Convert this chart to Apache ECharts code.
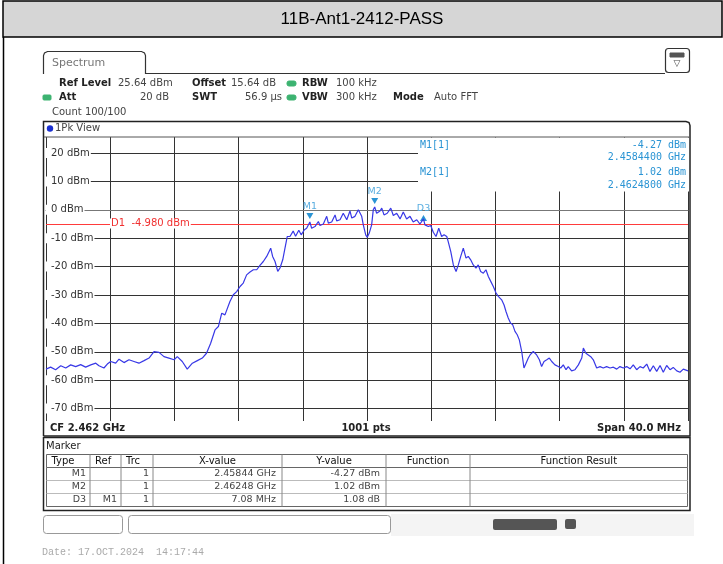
<!DOCTYPE html>
<html><head><meta charset="utf-8">
<script src="https://cdn.jsdelivr.net/npm/echarts@6/dist/echarts.min.js"></script>
<style>html,body{margin:0;padding:0;background:#fff}#c{width:723px;height:564px}</style>
</head><body><div id="c"></div>
<script>
// ---- data ----
const title = '11B-Ant1-2412-PASS';
const centerFreqGHz = 2.462;
const spanMHz = 40;
const refLevel = 25.64;
const displayRangeDb = 100;
const displayLineDbm = -4.98;
const yTickValues = [-70, -60, -50, -40, -30, -20, -10, 0, 10, 20];
// frequency offset from the centre frequency (MHz)
const freqOffsetMHz = [-20.00,-19.71,-19.40,-19.08,-18.77,-18.46,-18.15,-17.84,-17.53,-17.21,-16.90,-16.70,-16.39,-16.18,-15.97,-15.66,-15.45,-15.14,-14.83,-14.52,-14.21,-13.89,-13.58,-13.27,-12.96,-12.65,-12.34,-12.02,-11.82,-11.51,-11.20,-10.88,-10.57,-10.26,-10.00,-9.74,-9.47,-9.26,-9.05,-8.85,-8.54,-8.33,-8.12,-7.91,-7.71,-7.50,-7.29,-7.08,-6.87,-6.67,-6.46,-6.25,-6.00,-5.88,-5.73,-5.56,-5.42,-5.25,-5.11,-4.97,-4.80,-4.60,-4.45,-4.25,-4.10,-3.90,-3.76,-3.56,-3.45,-3.24,-3.03,-2.93,-2.72,-2.51,-2.41,-2.20,-1.99,-1.89,-1.68,-1.48,-1.26,-1.06,-0.95,-0.75,-0.54,-0.44,-0.33,-0.23,-0.08,0.02,0.14,0.29,0.39,0.48,0.60,0.81,0.92,1.06,1.26,1.48,1.64,1.85,2.06,2.26,2.47,2.68,2.88,3.10,3.30,3.52,3.61,3.82,3.97,4.13,4.30,4.47,4.65,4.80,4.97,5.06,5.22,5.38,5.55,5.69,5.84,6.00,6.17,6.31,6.46,6.62,6.79,6.93,7.08,7.25,7.41,7.56,7.71,7.87,8.04,8.18,8.39,8.54,8.66,8.80,8.95,9.08,9.22,9.36,9.49,9.64,9.78,9.91,10.05,10.16,10.36,10.57,10.74,10.88,11.03,11.20,11.36,11.51,11.71,11.92,12.07,12.23,12.40,12.54,12.75,12.96,13.17,13.38,13.48,13.64,13.79,13.94,14.10,14.31,14.52,14.72,14.93,15.14,15.35,15.56,15.76,15.97,16.18,16.39,16.59,16.80,17.01,17.21,17.43,17.63,17.84,18.05,18.26,18.46,18.67,18.88,19.08,19.30,19.50,19.71,20.00];
const levelDbm = [-56.1,-55.4,-56.3,-54.9,-55.7,-54.6,-55.2,-54.5,-55.4,-54.6,-54.0,-54.9,-55.7,-54.3,-53.4,-54.0,-52.6,-53.8,-52.8,-53.4,-54.0,-53.1,-52.2,-49.9,-50.2,-51.7,-52.2,-52.8,-51.7,-53.4,-56.1,-54.0,-53.1,-52.2,-50.5,-47.0,-42.3,-41.1,-36.4,-37.0,-32.3,-29.9,-28.8,-27.0,-25.8,-22.9,-21.9,-21.1,-21.1,-19.6,-18.2,-16.4,-13.5,-16.4,-18.2,-21.7,-20.5,-17.6,-13.5,-9.4,-9.4,-7.5,-9.3,-7.2,-8.8,-7.0,-6.5,-4.27,-6.5,-5.9,-4.1,-5.5,-5.0,-2.3,-4.7,-4.3,-1.8,-3.9,-3.5,-1.2,-3.5,-0.4,-2.9,-2.3,0.0,0.6,-2.3,-5.3,-8.8,-9.7,-8.2,-5.3,0.0,1.02,-1.2,-0.4,0.6,-1.8,-1.2,0.6,-2.0,-1.2,-3.2,-0.8,-3.2,-2.3,-4.3,-3.5,-5.0,-3.19,-5.3,-5.9,-5.5,-7.9,-9.4,-6.5,-9.4,-8.8,-9.4,-11.2,-14.7,-19.4,-21.7,-19.4,-16.4,-13.5,-17.0,-16.4,-17.6,-19.4,-20.5,-19.4,-21.7,-22.3,-21.1,-23.5,-25.2,-27.0,-29.3,-30.5,-31.7,-33.5,-35.8,-38.1,-39.9,-40.5,-42.8,-44.0,-45.8,-49.9,-55.7,-54.0,-52.2,-51.1,-49.9,-51.1,-52.8,-55.2,-53.4,-52.8,-52.2,-53.4,-54.6,-55.2,-55.7,-54.6,-56.3,-55.2,-56.7,-56.3,-54.6,-52.2,-48.7,-50.5,-51.1,-51.7,-52.8,-55.7,-55.2,-55.7,-55.2,-55.7,-55.4,-56.1,-55.2,-55.7,-55.2,-56.0,-54.6,-56.3,-55.2,-55.7,-54.3,-56.9,-54.9,-56.9,-54.8,-57.2,-54.8,-56.3,-55.5,-56.7,-57.2,-56.1,-56.7];
// markers
const markerNames = ['M1', 'M2', 'D3'];
const markerOffsetMHz = [-3.56, 0.48, 3.52];
const markerLevelDbm = [-4.27, 1.02, -3.19];
// marker table
const tableHeader = ['Type', 'Ref', 'Trc', 'X-value', 'Y-value', 'Function', 'Function Result'];
const tableType = ['M1', 'M2', 'D3'];
const tableRef = ['', '', 'M1'];
const tableTrc = ['1', '1', '1'];
const tableX = ['2.45844 GHz', '2.46248 GHz', '7.08 MHz'];
const tableY = ['-4.27 dBm', '1.02 dBm', '1.08 dB'];

// ---- chart ----
const chart = echarts.init(document.getElementById('c'), null, {renderer: 'canvas'});
const F = 'DejaVu Sans';
const BLUE = '#2a94d4';
function T(x, y, text, o) {
  o = o || {};
  const st = {
    text: text, fill: o.fill || '#222', align: o.align || 'left', verticalAlign: 'middle',
    font: (o.weight || 'normal') + ' ' + (o.size || 10) + 'px ' + (o.family || F)
  };
  if (o.bg) { st.backgroundColor = o.bg; st.padding = o.pad || [0, 1]; }
  return {type: 'text', x: x, y: y, z: o.z || 20, style: st};
}
function L(x1, y1, x2, y2, c, w, z) {
  return {type: 'line', z: z || 20, shape: {x1: x1, y1: y1, x2: x2, y2: y2}, style: {stroke: c || '#222', lineWidth: w || 1}};
}
function R(x, y, w, h, o) {
  o = o || {};
  const st = {fill: o.fill || 'none', lineWidth: o.lw || 1};
  if (o.stroke) st.stroke = o.stroke;
  return {type: 'rect', z: o.z || 20, shape: {x: x, y: y, width: w, height: h, r: o.r || 0}, style: st};
}
function P(points, c, w) {
  return {type: 'polyline', z: 20, shape: {points: points}, style: {fill: 'none', stroke: c || '#222', lineWidth: w || 1}};
}
const els = [];
// title bar & frame
els.push(R(3, 1, 719, 36, {fill: '#d6d6d6', stroke: '#000', lw: 1.5}));
els.push(T(362, 19.5, title, {size: 17, family: 'Liberation Sans', fill: '#000', align: 'center'}));
els.push(L(3.5, 37, 3.5, 564, '#000', 1.5));
// tab
els.push(P([[43.5, 74], [43.5, 55.5], [44.5, 53], [47.5, 51.5], [141.5, 51.5], [144.5, 53], [145.5, 55.5], [145.5, 73.5], [665, 73.5]], '#333', 1.2));
els.push(T(52, 63, 'Spectrum', {size: 11, fill: '#777'}));
els.push(R(665.5, 48.5, 24, 24, {stroke: '#333', r: 3, lw: 1.2}));
els.push(R(670, 53, 14, 4, {fill: '#555', stroke: '#555'}));
els.push(T(677, 64, '▽', {size: 9, fill: '#444', align: 'center'}));
// header rows
els.push(T(59, 83.5, 'Ref Level', {weight: 'bold'}));
els.push(T(118, 83.5, '25.64 dBm', {fill: '#444'}));
els.push(T(192, 83.5, 'Offset', {weight: 'bold'}));
els.push(T(231, 83.5, '15.64 dB', {fill: '#444'}));
els.push(R(287, 81, 9, 5, {fill: '#3cb371', stroke: '#3cb371', r: 2}));
els.push(T(302, 83.5, 'RBW', {weight: 'bold'}));
els.push(T(336, 83.5, '100 kHz', {fill: '#444'}));
els.push(R(43, 95, 8, 5, {fill: '#3cb371', stroke: '#3cb371', r: 1}));
els.push(T(59, 97.5, 'Att', {weight: 'bold'}));
els.push(T(169, 97.5, '20 dB', {fill: '#444', align: 'right'}));
els.push(T(192, 97.5, 'SWT', {weight: 'bold'}));
els.push(T(282, 97.5, '56.9 µs', {fill: '#444', align: 'right'}));
els.push(R(287, 95, 9, 5, {fill: '#3cb371', stroke: '#3cb371', r: 2}));
els.push(T(302, 97.5, 'VBW', {weight: 'bold'}));
els.push(T(336, 97.5, '300 kHz', {fill: '#444'}));
els.push(T(393, 97.5, 'Mode', {weight: 'bold'}));
els.push(T(434, 97.5, 'Auto FFT', {fill: '#444'}));
els.push(T(52, 112, 'Count 100/100', {fill: '#444'}));
// pane
els.push(P([[43.5, 436], [43.5, 121.5], [686, 121.5], [689, 122.5], [690, 125.5], [690, 436], [43.5, 436]], '#222', 1.5));
els.push({type: 'circle', z: 20, shape: {cx: 50, cy: 128.5, r: 3.2}, style: {fill: '#1a2fd0'}});
els.push(T(55, 128.5, '1Pk View', {fill: '#444'}));
els.push(L(44, 137, 690, 137, '#555', 1));
// marker info box
els.push(R(418, 137.5, 271, 54, {fill: '#fff', z: 15}));
els.push(T(420, 145, 'M1[1]', {family: 'DejaVu Sans Mono', fill: BLUE}));
els.push(T(686, 145, '-4.27 dBm', {family: 'DejaVu Sans Mono', fill: BLUE, align: 'right'}));
els.push(T(686, 157.5, '2.4584400 GHz', {family: 'DejaVu Sans Mono', fill: BLUE, align: 'right'}));
els.push(T(420, 172.5, 'M2[1]', {family: 'DejaVu Sans Mono', fill: BLUE}));
els.push(T(686, 172.5, '1.02 dBm', {family: 'DejaVu Sans Mono', fill: BLUE, align: 'right'}));
els.push(T(686, 185.5, '2.4624800 GHz', {family: 'DejaVu Sans Mono', fill: BLUE, align: 'right'}));
// D1 label
els.push(T(110, 223.5, 'D1  -4.980 dBm', {fill: '#f03030', bg: '#fff', pad: [0, 1, 0, 1]}));
// bottom row of pane
els.push(T(50, 428.5, 'CF 2.462 GHz', {weight: 'bold', fill: '#222'}));
els.push(T(366, 428.5, '1001 pts', {weight: 'bold', align: 'center', fill: '#222'}));
els.push(T(681, 428.5, 'Span 40.0 MHz', {weight: 'bold', align: 'right', fill: '#222'}));
// marker table
els.push(R(43.5, 437.5, 646.5, 73, {stroke: '#222', lw: 1.5}));
els.push(T(46, 446.5, 'Marker', {fill: '#222'}));
const colX = [46.5, 90, 121, 153, 282, 386, 470, 687.5];
const rowY = [454.5, 467.5, 480.5, 493.5, 506.5];
els.push(R(colX[0], rowY[0], colX[7] - colX[0], rowY[4] - rowY[0], {stroke: '#666'}));
for (let i = 1; i < 4; i++) els.push(L(colX[0], rowY[i], colX[7], rowY[i], '#bbb', 1));
els.push(L(colX[0], rowY[1], colX[7], rowY[1], '#666', 1));
for (let j = 1; j < 7; j++) els.push(L(colX[j], rowY[0], colX[j], rowY[4], '#888', 1));
tableHeader.forEach((h, j) => {
  const cx = (colX[j] + colX[j + 1]) / 2;
  els.push(T(j < 3 ? colX[j] + 5 : cx, 461, h, {fill: '#111', align: j < 3 ? 'left' : 'center'}));
});
for (let i = 0; i < 3; i++) {
  const y = (rowY[i + 1] + rowY[i + 2]) / 2;
  els.push(T(colX[1] - 4, y, tableType[i], {fill: '#444', align: 'right', size: 9.5}));
  els.push(T(colX[2] - 4, y, tableRef[i], {fill: '#444', align: 'right', size: 9.5}));
  els.push(T(colX[3] - 4, y, tableTrc[i], {fill: '#444', align: 'right', size: 9.5}));
  els.push(T(colX[4] - 6, y, tableX[i], {fill: '#444', align: 'right', size: 9.5}));
  els.push(T(colX[5] - 6, y, tableY[i], {fill: '#444', align: 'right', size: 9.5}));
}
// status bar
els.push(R(43.5, 515.5, 79, 18, {stroke: '#999', r: 3}));
els.push(R(128.5, 515.5, 262, 18, {stroke: '#999', r: 3}));
els.push(R(391, 514, 303, 22, {fill: '#f4f4f4', z: 19}));
els.push(R(493, 519, 64, 11, {fill: '#555', r: 2}));
els.push(R(565, 519, 11, 10, {fill: '#555', r: 2}));
els.push(T(42, 552.5, 'Date: 17.OCT.2024  14:17:44', {family: 'Liberation Mono', size: 10, fill: '#aaa'}));

const yMin = refLevel - displayRangeDb;
chart.setOption({
  animation: false,
  backgroundColor: '#fff',
  grid: {left: 46, top: 137, width: 642, height: 284, containLabel: false},
  xAxis: {
    type: 'value', min: -spanMHz / 2, max: spanMHz / 2, interval: spanMHz / 10,
    axisLabel: {show: false}, axisTick: {show: false},
    axisLine: {show: true, lineStyle: {color: '#777', width: 1}},
    splitLine: {show: true, lineStyle: {color: '#333', width: 1}}
  },
  yAxis: {
    type: 'value', min: yMin, max: refLevel,
    axisLine: {show: false},
    axisTick: {show: false, customValues: yTickValues},
    axisLabel: {customValues: yTickValues, inside: true, margin: 0, formatter: v => v + ' dBm',
      color: '#333', fontFamily: F, fontSize: 10, backgroundColor: '#fff', padding: [0, 1, 0, 5]},
    splitLine: {show: true, lineStyle: {color: '#333', width: 1}}
  },
  graphic: {elements: els},
  series: [{
    type: 'line', z: 5, symbol: 'none', silent: true,
    data: freqOffsetMHz.map((f, i) => [f, levelDbm[i]]),
    lineStyle: {color: '#3838e6', width: 1.2},
    markLine: {
      silent: true, symbol: 'none', animation: false,
      lineStyle: {color: '#ff3b3b', width: 1, type: 'solid'},
      label: {show: false},
      data: [{yAxis: displayLineDbm}]
    },
    markPoint: {
      silent: true, animation: false,
      data: markerNames.map((n, i) => ({
        name: n, coord: [markerOffsetMHz[i], markerLevelDbm[i]],
        symbol: 'triangle', symbolSize: [7, 6],
        symbolRotate: n[0] === 'M' ? 180 : 0,
        symbolOffset: n[0] === 'M' ? [0, -6] : [0, -1],
        itemStyle: {color: BLUE},
        label: {show: true, position: 'top', distance: 1, formatter: n, color: '#5aaee0', fontSize: 9.5, fontFamily: F}
      }))
    }
  }]
});
</script></body></html>
